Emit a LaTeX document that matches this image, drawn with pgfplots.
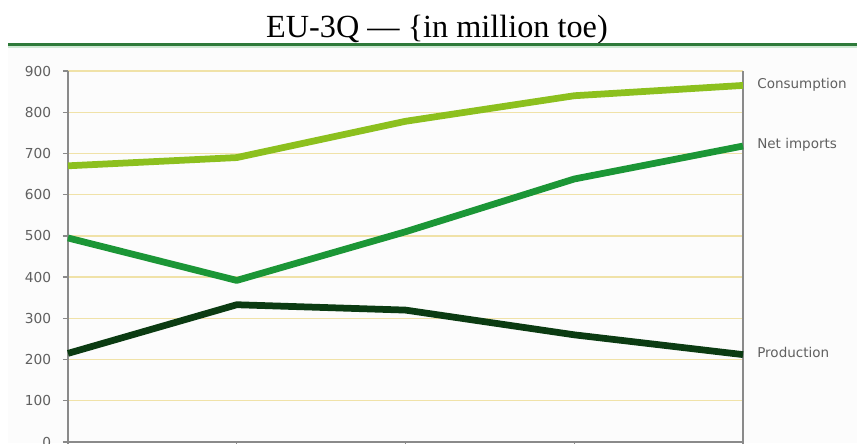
\documentclass[border=0pt]{standalone}
\usepackage{pgfplots}
\pgfplotsset{compat=1.18}
\usepackage{fontspec}
\setmainfont{Liberation Serif}
\newfontfamily\labelfont{DejaVu Sans}

\definecolor{consumption}{HTML}{8CC01E}
\definecolor{netimports}{HTML}{1B9636}
\definecolor{production}{HTML}{0B3B12}
\definecolor{rulegreen}{HTML}{2E7A3A}
\definecolor{rulelight}{HTML}{CFE9D4}
\definecolor{gridyellow}{HTML}{F0E2A8}
\definecolor{labelgray}{HTML}{606060}
\definecolor{axisgray}{HTML}{8A8A8A}

\begin{document}
\begin{tikzpicture}
% page frame: 857 x 443 units of 0.4pt
\path[use as bounding box] (0,0) rectangle (342.8pt,177.2pt);
\fill[white] (0,0) rectangle (342.8pt,177.2pt);
\fill[black!1!white] (3.2pt,0) rectangle (342.8pt,159pt);

% title and rule beneath it
\node[anchor=base, font=\fontsize{12.9}{15}\selectfont] at (174.8pt,162pt)
  {EU-3Q --- \{in million toe)};
\draw[rulelight, line width=1.2pt] (3.2pt,158.4pt) -- (342.8pt,158.4pt);
\draw[rulegreen, line width=0.9pt] (3.2pt,159.4pt) -- (342.8pt,159.4pt);

\begin{axis}[
  at={(27.2pt,0.4pt)}, anchor=south west,
  scale only axis, width=270pt, height=148.4pt,
  xmin=0, xmax=4, ymin=0, ymax=900,
  axis x line*=bottom, axis y line*=left,
  axis line style={axisgray, line width=0.6pt},
  xtick={0,1,2,3,4}, xticklabels={},
  ytick={0,100,...,900},
  tick align=outside, major tick length=2pt,
  tick style={axisgray, line width=0.5pt},
  ymajorgrids, grid style={gridyellow, line width=0.55pt},
  /pgf/number format/assume math mode=true,
  yticklabel style={font=\labelfont\fontsize{5.5}{6}\selectfont, text=labelgray, xshift=-1.2pt},
  clip=false,
]
% right-hand frame line
\draw[axisgray, line width=0.6pt] (axis cs:4,0) -- (axis cs:4,900);

\addplot[consumption, line width=2.7pt, line join=round]
  coordinates {(0,670) (1,690) (2,778) (3,840) (4,865)};
\addplot[netimports, line width=2.7pt, line join=round]
  coordinates {(0,495) (1,392) (2,510) (3,638) (4,718)};
\addplot[production, line width=2.7pt, line join=round]
  coordinates {(0,215) (1,333) (2,320) (3,260) (4,212)};

% series names at the right end
\begin{scope}[every node/.style={anchor=west, text=labelgray,
    font=\labelfont\fontsize{5.4}{6}\selectfont, xshift=2.2pt}]
\node at (axis cs:4,866) {Consumption};
\node at (axis cs:4,722) {Net imports};
\node at (axis cs:4,218) {Production};
\end{scope}
\end{axis}
\end{tikzpicture}
\end{document}
